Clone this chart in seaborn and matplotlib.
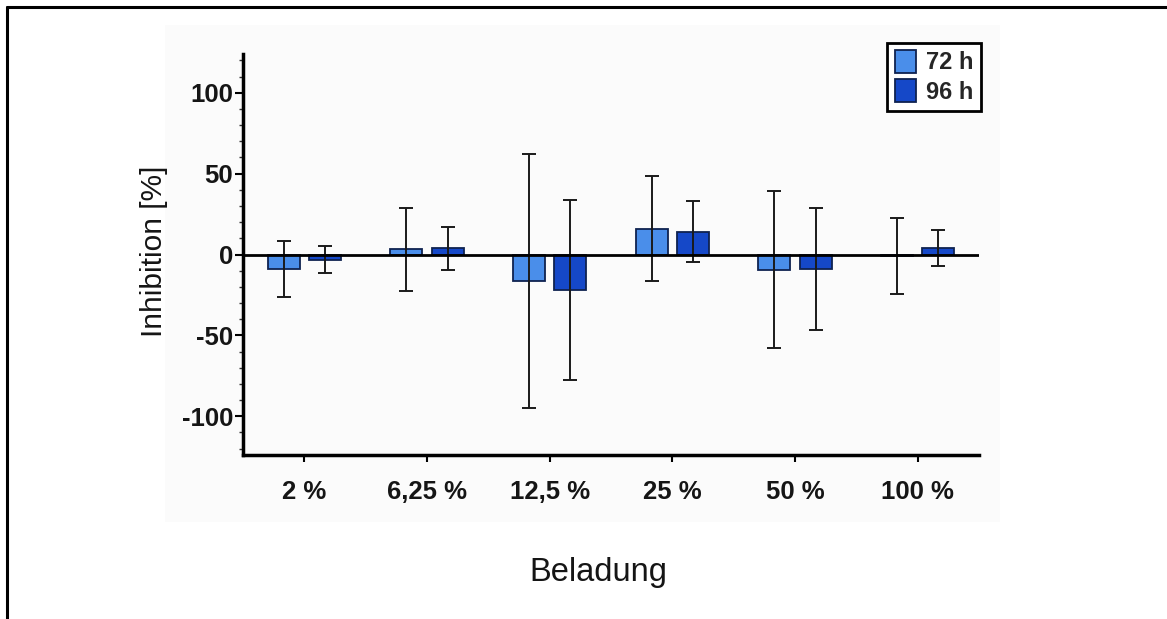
import matplotlib
matplotlib.use("Agg")
import matplotlib.pyplot as plt
from matplotlib.lines import Line2D
from matplotlib.patches import Rectangle
from matplotlib.ticker import MultipleLocator
import pandas as pd
import seaborn as sns

# Data
categories = ["2 %", "6,25 %", "12,5 %", "25 %", "50 %", "100 %"]
series = ["72 h", "96 h"]
mean_72h = [-9.1, 3.1, -16.3, 16.0, -9.3, -1.0]
err_72h = [17.3, 25.8, 78.5, 32.5, 48.4, 23.7]
mean_96h = [-3.1, 3.9, -21.7, 14.0, -8.9, 3.9]
err_96h = [8.2, 13.2, 55.7, 18.8, 37.8, 11.1]
y_ticks = [-100, -50, 0, 50, 100]

colors = ["#4A8EEA", "#1548C8"]
edge = "#0f2250"

sns.set_theme(style="white")
plt.rcParams["font.family"] = ["Liberation Sans", "DejaVu Sans"]
plt.rcParams["axes.unicode_minus"] = False

df = pd.DataFrame({
    "Beladung": categories * 2,
    "Zeit": [series[0]] * len(categories) + [series[1]] * len(categories),
    "Inhibition": mean_72h + mean_96h,
})
errors = [err_72h, err_96h]

fig = plt.figure(figsize=(11.67, 6.19), dpi=100)
fig.patch.set_facecolor("white")

# faint panel behind the chart
fig.patches.append(Rectangle((165 / 1167, 1 - 522 / 619), (1000 - 165) / 1167, (522 - 25) / 619,
                             transform=fig.transFigure, facecolor="#fbfbfb", edgecolor="none", zorder=-5))
# outer frame lines (top and left)
fig.add_artist(Line2D([7 / 1167, 1.0], [1 - 7 / 619, 1 - 7 / 619], transform=fig.transFigure,
                      color="black", lw=2.2))
fig.add_artist(Line2D([7 / 1167, 7 / 1167], [0.0, 1 - 7 / 619], transform=fig.transFigure,
                      color="black", lw=2.2))

ax = fig.add_axes([243 / 1167, 1 - 455 / 619, (979 - 243) / 1167, (455 - 54) / 619])
ax.set_facecolor("none")

sns.barplot(data=df, x="Beladung", y="Inhibition", hue="Zeit", order=categories, hue_order=series,
            palette=colors, saturation=1, width=0.67, gap=0.22, edgecolor=edge, linewidth=1.3,
            errorbar=None, ax=ax, zorder=3)

# error bars centred on each drawn bar (containers follow hue order)
bar_containers = list(ax.containers)
for container, err in zip(bar_containers, errors):
    xs = [p.get_x() + p.get_width() / 2 for p in container.patches]
    ys = [p.get_y() + p.get_height() for p in container.patches]
    ax.errorbar(xs, ys, yerr=err, fmt="none", ecolor="#1a1a1a", elinewidth=1.4,
                capsize=4.8, capthick=1.4, zorder=4)

ax.axhline(0, color="black", lw=2, zorder=5)

ax.set_xlim(-0.5, 5.5)
ax.set_ylim(-124, 124)
ax.set_yticks(y_ticks)
ax.yaxis.set_minor_locator(MultipleLocator(10))
for side in ["top", "right"]:
    ax.spines[side].set_visible(False)
for side in ["left", "bottom"]:
    ax.spines[side].set_linewidth(2.5)
    ax.spines[side].set_color("black")

ax.tick_params(axis="y", which="major", direction="out", length=6, width=1.5, color="black",
               left=True, pad=1)
ax.tick_params(axis="y", which="minor", direction="out", length=3, width=1.0, color="#333333", left=True)
ax.tick_params(axis="x", which="major", direction="out", length=5, width=1.5, color="black",
               bottom=True, pad=13)
for lab in ax.get_yticklabels() + ax.get_xticklabels():
    lab.set_fontweight("bold")
    lab.set_fontsize(18.5)
    lab.set_color("#151515")

ax.set_xlabel("")
ax.set_ylabel("")
fig.text(154 / 1167, 1 - 251 / 619, "Inhibition [%]", rotation=90, ha="center", va="center",
         fontsize=21.5, color="#151515")
fig.text(598 / 1167, 1 - 572 / 619, "Beladung", ha="center", va="center", fontsize=23.5, color="#151515")

leg = ax.legend(loc="upper right", bbox_to_anchor=(981 / 1167, 1 - 43 / 619), bbox_transform=fig.transFigure,
                borderaxespad=0, frameon=True, fancybox=False, edgecolor="black", facecolor="white",
                framealpha=1, handlelength=0.9, handleheight=1.1, handletextpad=0.45, labelspacing=0.2,
                borderpad=0.3, prop={"weight": "bold", "size": 17})
leg.get_frame().set_linewidth(2.0)
for h in leg.legend_handles:
    h.set_edgecolor(edge)
    h.set_linewidth(1.3)

fig.savefig("out.png", dpi=100)
